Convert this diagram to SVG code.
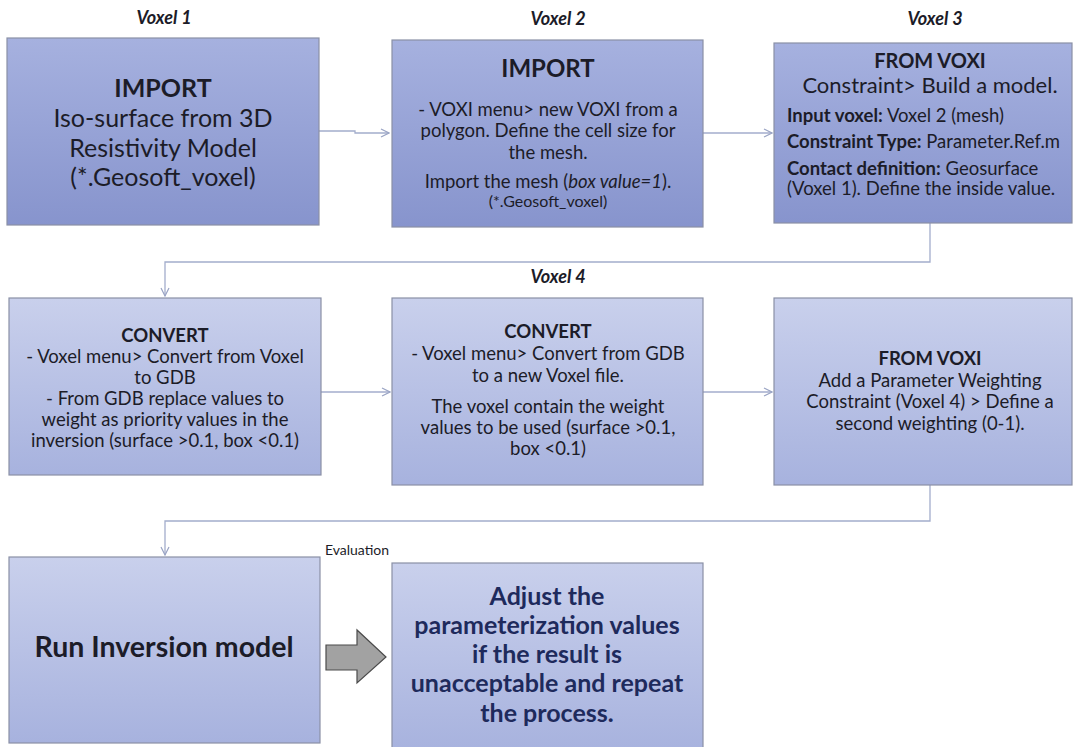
<svg xmlns="http://www.w3.org/2000/svg" width="1076" height="747" viewBox="0 0 1076 747">
<defs>
<linearGradient id="gDark" x1="0" y1="0" x2="0" y2="1">
<stop offset="0" stop-color="#a6b1df"/>
<stop offset="1" stop-color="#8794cd"/>
</linearGradient>
<linearGradient id="gLight" x1="0" y1="0" x2="0" y2="1">
<stop offset="0" stop-color="#c9d0ec"/>
<stop offset="1" stop-color="#a7b2de"/>
</linearGradient>
<marker id="chev" viewBox="0 0 10 10" refX="9" refY="5" markerWidth="10" markerHeight="10" markerUnits="userSpaceOnUse" orient="auto">
<path d="M1,1 L9,5 L1,9" fill="none" stroke="#9aa4c4" stroke-width="1.2"/>
</marker>
<style>
.box{stroke:#8a90a6;stroke-width:1.2}
.dk{fill:url(#gDark)}
.lt{fill:url(#gLight)}
text{font-family:Lato,"Liberation Sans",sans-serif;fill:#1c1c28;text-anchor:middle}
.l{text-anchor:start}
.b{font-weight:bold}
.lab{font-weight:bold;font-style:italic;font-size:18px}
.con{fill:none;stroke:#a3adcc;stroke-width:1.3}
.navy{fill:#1e2a5c;font-weight:bold;font-size:25px}
</style>
</defs>
<rect width="1076" height="747" fill="#ffffff"/>

<g id="labels">
<text class="lab" x="164" y="24">Voxel 1</text>
<text class="lab" x="558" y="25">Voxel 2</text>
<text class="lab" x="935" y="25">Voxel 3</text>
<text class="lab" x="558" y="283">Voxel 4</text>
</g>

<g id="connectors">
<path class="con" d="M319,131 H355 V133 H389" marker-end="url(#chev)"/>
<path class="con" d="M703,133 H772" marker-end="url(#chev)"/>
<path class="con" d="M930,223 V262 H165 V296" marker-end="url(#chev)"/>
<path class="con" d="M321,392 H390" marker-end="url(#chev)"/>
<path class="con" d="M703,392 H772" marker-end="url(#chev)"/>
<path class="con" d="M930,485 V521 H165 V555" marker-end="url(#chev)"/>
</g>

<g id="node1">
<rect class="box dk" x="7" y="38" width="312" height="187"/>
<text class="b" x="163" y="97" font-size="25">IMPORT</text>
<text x="163" y="127" font-size="25">Iso-surface from 3D</text>
<text x="163" y="157" font-size="25">Resistivity Model</text>
<text x="163" y="186" font-size="25">(*.Geosoft_voxel)</text>
</g>

<g id="node2">
<rect class="box dk" x="392" y="40" width="311" height="187"/>
<text class="b" x="548" y="77" font-size="24">IMPORT</text>
<text x="548" y="116" font-size="18.5">- VOXI menu&gt; new VOXI from a</text>
<text x="548" y="137" font-size="18.5">polygon. Define the cell size for</text>
<text x="548" y="159" font-size="18.5">the mesh.</text>
<text x="548" y="188" font-size="18.5">Import the mesh (<tspan font-style="italic">box value=1</tspan>).</text>
<text x="548" y="207" font-size="16">(*.Geosoft_voxel)</text>
</g>

<g id="node3">
<rect class="box dk" x="774" y="43" width="298" height="180"/>
<text class="b" x="930" y="68" font-size="20">FROM VOXI</text>
<text x="930" y="93" font-size="22">Constraint&gt; Build a model.</text>
<text class="l" x="787" y="122" font-size="18.5"><tspan class="b">Input voxel:</tspan> Voxel 2 (mesh)</text>
<text class="l" x="787" y="148" font-size="18.5"><tspan class="b">Constraint Type:</tspan> Parameter.Ref.m</text>
<text class="l" x="787" y="175" font-size="18.5"><tspan class="b">Contact definition:</tspan> Geosurface</text>
<text class="l" x="787" y="195" font-size="18.5">(Voxel 1). Define the inside value.</text>
</g>

<g id="node4">
<rect class="box lt" x="9" y="298" width="312" height="177"/>
<text class="b" x="165" y="342" font-size="18.5">CONVERT</text>
<text x="165" y="363" font-size="18.5">- Voxel menu&gt; Convert from Voxel</text>
<text x="165" y="384" font-size="18.5">to GDB</text>
<text x="165" y="405" font-size="18.5">- From GDB replace values to</text>
<text x="165" y="426" font-size="18.5">weight as priority values in the</text>
<text x="165" y="447" font-size="18.5">inversion (surface &gt;0.1, box &lt;0.1)</text>
</g>

<g id="node5">
<rect class="box lt" x="392" y="298" width="311" height="187"/>
<text class="b" x="548" y="338" font-size="18.5">CONVERT</text>
<text x="548" y="360" font-size="18.5">- Voxel menu&gt; Convert from GDB</text>
<text x="548" y="382" font-size="18.5">to a new Voxel file.</text>
<text x="548" y="413" font-size="18.5">The voxel contain the weight</text>
<text x="548" y="434" font-size="18.5">values to be used (surface &gt;0.1,</text>
<text x="548" y="455" font-size="18.5">box &lt;0.1)</text>
</g>

<g id="node6">
<rect class="box lt" x="774" y="298" width="298" height="187"/>
<text class="b" x="930" y="365" font-size="18.5">FROM VOXI</text>
<text x="930" y="387" font-size="18.5">Add a Parameter Weighting</text>
<text x="930" y="408" font-size="18.5">Constraint (Voxel 4) &gt; Define a</text>
<text x="930" y="430" font-size="18.5">second weighting (0-1).</text>
</g>

<g id="node7">
<rect class="box lt" x="9" y="557" width="311" height="186"/>
<text class="b" x="164" y="657" font-size="28.5">Run Inversion model</text>
</g>

<g id="evaluation">
<text x="357" y="555" font-size="14">Evaluation</text>
<path d="M326,645 H357 V630 L386,657 L357,683 V670 H326 Z" fill="#a2a2a2" stroke="#4b4b4b" stroke-width="1.2"/>
</g>

<g id="node8">
<rect class="box lt" x="392" y="563" width="311" height="190"/>
<text class="navy" x="547" y="605">Adjust the</text>
<text class="navy" x="547" y="634">parameterization values</text>
<text class="navy" x="547" y="663">if the result is</text>
<text class="navy" x="547" y="692">unacceptable and repeat</text>
<text class="navy" x="547" y="722">the process.</text>
</g>
</svg>
